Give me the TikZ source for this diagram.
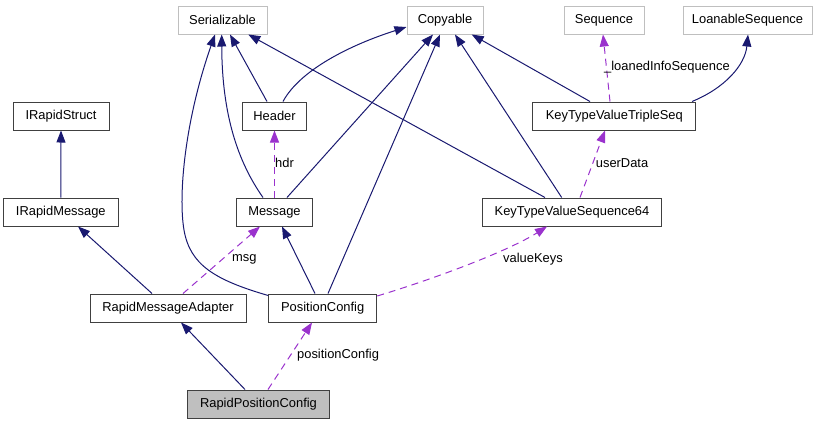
\documentclass[tikz,border=0pt]{standalone}
\usepackage{fontspec}
\setmainfont{Liberation Sans}
\usetikzlibrary{arrows.meta}
\definecolor{edgeblue}{HTML}{191970}
\definecolor{edgepurple}{HTML}{9A32CD}
\definecolor{grayborder}{HTML}{BFBFBF}
\definecolor{boxborder}{HTML}{404040}
\begin{document}
\begin{tikzpicture}[x=1pt,y=-1pt,
  every node/.style={font=\fontsize{12.9}{15}\selectfont, inner sep=0pt},
  cls/.style={draw=boxborder, line width=1pt, fill=white, minimum height=28pt},
  ext/.style={draw=grayborder, line width=1pt, fill=white, minimum height=28pt},
  focus/.style={draw=boxborder, line width=1pt, fill=grayborder, minimum height=28pt},
  inh/.style={draw=edgeblue, line width=1pt, -{Triangle[length=12pt,width=9pt]}},
  use/.style={draw=edgepurple, line width=1pt, dash pattern=on 7pt off 5pt, -{Triangle[length=12pt,width=9pt]}},
  lbl/.style={anchor=west, text=black}
]
\useasboundingbox (0,0) rectangle (820,424);

% nodes
\node[ext, minimum width=89pt] (ser) at (222.5,20) {Serializable};
\node[ext, minimum width=76pt] (cop) at (445,20) {Copyable};
\node[ext, minimum width=80pt] (seq) at (604,20) {Sequence};
\node[ext, minimum width=129pt] (loan) at (747.5,20) {LoanableSequence};
\node[cls, minimum width=96pt] (irs) at (61,116) {IRapidStruct};
\node[cls, minimum width=64pt] (hdr) at (274.5,116) {Header};
\node[cls, minimum width=162.7pt] (kt3) at (614.3,116) {KeyTypeValueTripleSeq};
\node[cls, minimum width=115pt] (irm) at (60.8,212) {IRapidMessage};
\node[cls, minimum width=75.6pt] (msg) at (274.5,212) {Message};
\node[cls, minimum width=178.6pt] (kt64) at (572,212) {KeyTypeValueSequence64};
\node[cls, minimum width=156pt] (rma) at (168,308) {RapidMessageAdapter};
\node[cls, minimum width=108pt] (pc) at (322.7,308) {PositionConfig};
\node[focus, minimum width=141.6pt] (rpc) at (258.5,404) {RapidPositionConfig};

% inheritance / blue edges
\draw[inh] (irm.north) -- (irs.south);
\draw[inh] ([xshift=-16pt]rma.north) -- ([xshift=17.2pt]irm.south);
\draw[inh] ([xshift=-13.5pt]rpc.north) -- ([xshift=13pt]rma.south);
\draw[inh] ([xshift=-7.7pt]pc.north) -- ([xshift=7.5pt]msg.south);
\draw[inh] ([xshift=5.3pt]pc.north) -- ([xshift=-5pt]cop.south);
\draw[inh] ([yshift=-2pt]pc.north west) .. controls (215,280) and (190,265) .. (184,230)
  .. controls (178,195) and (185,120) .. ([xshift=-7.5pt]ser.south);
\draw[inh] ([xshift=-11.5pt]msg.north) .. controls (238,162) and (222,115) .. ([xshift=-0.8pt]ser.south);
\draw[inh] ([xshift=-7.5pt]hdr.north) -- ([xshift=7.5pt]ser.south);
\draw[inh] ([xshift=8.5pt]hdr.north) .. controls (300,70) and (350,45) .. ([yshift=-7pt]cop.west);
\draw[inh] ([xshift=12.5pt]msg.north) -- ([xshift=-12pt]cop.south);
\draw[inh] ([xshift=-27pt]kt64.north) -- ([xshift=25.8pt]ser.south);
\draw[inh] ([xshift=-10.3pt]kt64.north) -- ([xshift=10pt]cop.south);
\draw[inh] ([xshift=-24.3pt]kt3.north) -- ([xshift=26.7pt]cop.south);
\draw[inh] ([xshift=77.7pt]kt3.north) .. controls (725,88) and (745,65) .. ([xshift=0.5pt]loan.south);

% usage / purple dashed edges
\draw[use] ([xshift=9.5pt]rpc.north) -- ([xshift=-10.7pt]pc.south);
\node[lbl] (l1) at (297,355) {positionConfig};
\draw[use] ([xshift=15pt]rma.north) -- ([xshift=-14.5pt]msg.south);
\node[lbl] (l2) at (232,259) {msg};
\draw[use] ([xshift=-4.3pt]kt3.north) -- ([xshift=-1pt]seq.south);
\node[lbl] (l3) at (604,67) {\_loanedInfoSequence};
\draw[use] ([xshift=8pt]kt64.north) -- ([xshift=-9.3pt]kt3.south);
\node[lbl] (l4) at (595.7,163) {userData};
\draw[use] ([yshift=12pt]pc.east) .. controls (440,277) and (510,250) .. ([xshift=-25pt]kt64.south);
\node[lbl] (l5) at (503,259) {valueKeys};
\draw[use] (msg.north) -- (hdr.south);
\node[lbl] (l6) at (275,163) {hdr};
\end{tikzpicture}
\end{document}
